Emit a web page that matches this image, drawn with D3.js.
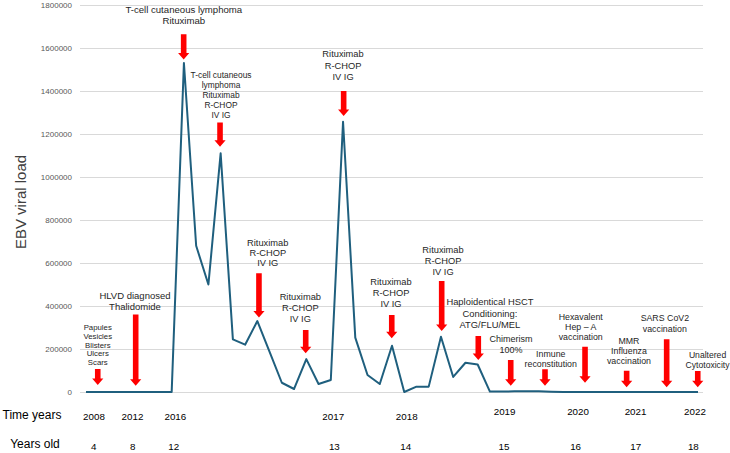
<!DOCTYPE html>
<html>
<head>
<meta charset="utf-8">
<script src="https://cdn.jsdelivr.net/npm/d3@7"></script>
<style>
  body { margin: 0; background: #fff; }
  svg { font-family: "Liberation Sans", Arial, sans-serif; }
  .grid line { stroke: #d9d9d9; }
  .grid path { display: none; }
  .grid text { fill: #595959; font-size: 8px; }
  .note { fill: #262626; }
  .row { fill: #000; }
</style>
</head>
<body>
<svg width="730" height="453"></svg>
<script>
// **** Data ****
// EBV viral load, one value per sample (51 samples, evenly spaced)
var viralLoad = [
  0, 0, 0, 0, 0, 0, 0, 0,
  1530000, 680000, 500000, 1110000, 245000, 220000, 330000, 187000,
  43000, 14000, 153000, 37000, 56000, 1257000, 253000, 79000,
  37000, 215000, 0, 25000, 25000, 257000, 70000, 136000,
  128000, 2000, 2000, 3000, 4000, 3000, 1000, 0,
  0, 0, 0, 0, 0, 0, 0, 0, 0, 0, 0
];

var yTicks = [0, 200000, 400000, 600000, 800000, 1000000, 1200000, 1400000, 1600000, 1800000];

// bottom rows (position in sample index units)
var yearLabels = ["2008", "2012", "2016", "2017", "2018", "2019", "2020", "2021", "2022"];
var yearPos    = [0.65, 3.8, 7.3, 20.2, 26.2, 34.2, 40.2, 44.9, 49.75];
var ageLabels  = ["4", "8", "12", "13", "14", "15", "16", "17", "18"];
var agePos     = [0.63, 3.82, 7.17, 20.29, 26.12, 34.15, 40.0, 44.91, 49.62];

// annotations: arrow x (index), arrow top / tip (viral load), text x (index), first text line (viral load)
var noteText = [
  ["Papules", "Vesicles", "Blisters", "Ulcers", "Scars"],
  ["HLVD diagnosed", "Thalidomide"],
  ["T-cell cutaneous lymphoma", "Rituximab"],
  ["T-cell cutaneous", "lymphoma", "Rituximab", "R-CHOP", "IV IG"],
  ["Rituximab", "R-CHOP", "IV IG"],
  ["Rituximab", "R-CHOP", "IV IG"],
  ["Rituximab", "R-CHOP", "IV IG"],
  ["Rituximab", "R-CHOP", "IV IG"],
  ["Rituximab", "R-CHOP", "IV IG"],
  ["Haploidentical HSCT", "Conditioning:", "ATG/FLU/MEL"],
  ["Chimerism", "100%"],
  ["Inmune", "reconstitution"],
  ["Hexavalent", "Hep \u2013 A", "vaccination"],
  ["MMR", "Influenza", "vaccination"],
  ["SARS CoV2", "vaccination"],
  ["Unaltered", "Cytotoxicity"]
];
var arrowX   = [0.96, 4.06, 7.98, 10.95, 21.05, 14.13, 17.95, 24.98, 29.06, 32.05, 34.7, 37.5, 40.77, 44.17, 47.44, 49.98];
var arrowTop = [107000, 361000, 1664000, 1253000, 1400000, 552000, 288000, 358000, 516000, 260000, 149000, 106000, 211000, 99000, 245000, 98000];
var arrowTip = [33000, 29000, 1547000, 1141000, 1284000, 347000, 180000, 250000, 284000, 149000, 29000, 29000, 43000, 22000, 22000, 22000];
var textX    = [0.96, 4.0, 7.99, 11.03, 21.0, 14.85, 17.51, 24.92, 29.17, 33.0, 34.72, 37.97, 40.42, 44.36, 47.29, 50.78];
var textTop  = [299000, 451000, 1777000, 1473000, 1571000, 694000, 440000, 510000, 660000, 420000, 245000, 177000, 347000, 236000, 343000, 172000];
var textSize = [7.8, 9.5, 9.6, 8.4, 9.3, 9.3, 9.3, 9.3, 9.3, 9.4, 9, 8.8, 8.8, 8.8, 8.8, 8.6];
var lineGap  = [8.7, 11, 11, 10, 11.3, 10.3, 10.8, 11, 11, 11.3, 10.7, 10, 10, 10, 10.7, 10];

// **** Scales ****
var xScale = d3.scaleLinear().domain([0, viralLoad.length - 1]).range([86, 698]);
var yScale = d3.scaleLinear().domain([0, 1800000]).range([392, 5]);

var svg = d3.select("svg");

// gridlines + tick labels
svg.append("g").attr("class", "grid")
    .attr("transform", "translate(80,0)")
    .call(d3.axisLeft(yScale).tickValues(yTicks).tickSize(-623).tickPadding(8).tickFormat(d3.format("d")))
    .call(function(g) { g.selectAll(".tick line").attr("stroke", "#d9d9d9"); });

// y title
svg.append("text")
    .attr("transform", "translate(20,202) rotate(-90)")
    .attr("text-anchor", "middle")
    .attr("dominant-baseline", "central")
    .attr("font-size", 15)
    .attr("fill", "#404040")
    .text("EBV viral load");

// the viral load line
var line = d3.line()
    .x(function(d, i) { return xScale(i); })
    .y(function(d) { return yScale(d); });

svg.append("path")
    .datum(viralLoad)
    .attr("d", line)
    .attr("fill", "none")
    .attr("stroke", "#1f5f7e")
    .attr("stroke-width", 2)
    .attr("stroke-linejoin", "round");

// **** Annotations: red arrows and notes ****
function arrowPath(x, top, tip) {
  var sw = 2.8, hw = 5.6, hh = 6.5;   // half shaft width, half head width, head height
  return "M" + (x - sw) + "," + top + "L" + (x + sw) + "," + top +
         "L" + (x + sw) + "," + (tip - hh) + "L" + (x + hw) + "," + (tip - hh) +
         "L" + x + "," + tip + "L" + (x - hw) + "," + (tip - hh) +
         "L" + (x - sw) + "," + (tip - hh) + "Z";
}

noteText.forEach(function(lines, i) {
  svg.append("path")
      .attr("d", arrowPath(xScale(arrowX[i]), yScale(arrowTop[i]), yScale(arrowTip[i])))
      .attr("fill", "#ff0000");

  var t = svg.append("text")
      .attr("class", "note")
      .attr("text-anchor", "middle")
      .attr("font-size", textSize[i]);
  lines.forEach(function(s, j) {
    t.append("tspan")
        .attr("x", xScale(textX[i]))
        .attr("y", yScale(textTop[i]) + j * lineGap[i])
        .attr("dominant-baseline", "central")
        .text(s);
  });
});

// **** Bottom rows ****
svg.append("text").attr("class", "row")
    .attr("x", 32).attr("y", 415)
    .attr("text-anchor", "middle").attr("dominant-baseline", "central")
    .attr("font-size", 12).text("Time years");
svg.append("text").attr("class", "row")
    .attr("x", 35).attr("y", 444)
    .attr("text-anchor", "middle").attr("dominant-baseline", "central")
    .attr("font-size", 12).text("Years old");

svg.selectAll("text.year")
    .data(yearLabels)
    .enter().append("text")
    .attr("class", "year row")
    .attr("x", function(d, i) { return xScale(yearPos[i]); })
    .attr("y", function(d, i) { return i < 5 ? 416 : 411; })
    .attr("text-anchor", "middle").attr("dominant-baseline", "central")
    .attr("font-size", 9.8)
    .text(function(d) { return d; });

svg.selectAll("text.age")
    .data(ageLabels)
    .enter().append("text")
    .attr("class", "age row")
    .attr("x", function(d, i) { return xScale(agePos[i]); })
    .attr("y", 446)
    .attr("text-anchor", "middle").attr("dominant-baseline", "central")
    .attr("font-size", 9.8)
    .text(function(d) { return d; });
</script>
</body>
</html>
